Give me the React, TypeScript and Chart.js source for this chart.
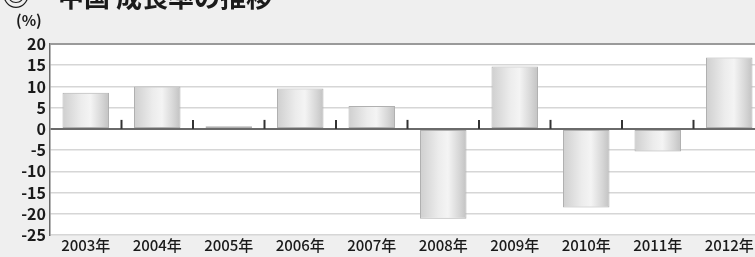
import React, { useEffect, useRef } from "react";
import { Chart, registerables } from "chart.js";

Chart.register(...registerables);

const categories = ["2003年", "2004年", "2005年", "2006年", "2007年", "2008年", "2009年", "2010年", "2011年", "2012年"];
const growthValues = [8.5, 10.0, 0.6, 9.5, 5.4, -21.2, 14.7, -18.5, -5.3, 16.8];
const yTicks = [20, 15, 10, 5, 0, -5, -10, -15, -20, -25];
const titleMark = "◎";
const titleText = "中国 成長率の推移";
const unitText = "(%)";

const FONT = "'Noto Sans CJK JP', 'Noto Sans', sans-serif";
const BAR_RATIO = 0.65;

const decorPlugin = {
  id: "decor",
  beforeDraw(chart: any) {
    const { ctx, chartArea } = chart;
    ctx.save();
    ctx.fillStyle = "#efefef";
    ctx.fillRect(0, 0, chart.width, chart.height);
    ctx.fillStyle = "#ffffff";
    ctx.fillRect(chartArea.left, chartArea.top, chartArea.right - chartArea.left, chartArea.bottom - chartArea.top);
    ctx.restore();
  },
  afterDraw(chart: any) {
    const { ctx } = chart;
    const xs = chart.scales.x;
    const ys = chart.scales.y;
    const zero = ys.getPixelForValue(0);
    ctx.save();
    ctx.strokeStyle = "#333333";
    ctx.lineWidth = 2;
    for (let i = 0; i < categories.length - 1; i++) {
      const bx = (xs.getPixelForValue(i) + xs.getPixelForValue(i + 1)) / 2;
      ctx.beginPath();
      ctx.moveTo(bx, zero - 9);
      ctx.lineTo(bx, zero);
      ctx.stroke();
    }
    ctx.fillStyle = "#1a1a1a";
    ctx.textBaseline = "middle";
    ctx.font = `bold 28px ${FONT}`;
    ctx.fillText(titleMark, 2, -5);
    ctx.font = `bold 26px ${FONT}`;
    ctx.fillText(titleText, 58, -3);
    ctx.font = `bold 15px ${FONT}`;
    ctx.textBaseline = "alphabetic";
    ctx.fillText(unitText, 16, 26);
    ctx.restore();
  },
};

export default function App() {
  const ref = useRef<HTMLCanvasElement>(null);
  useEffect(() => {
    if (!ref.current) return;
    const chart = new Chart(ref.current, {
      type: "bar",
      data: {
        labels: categories,
        datasets: [
          {
            data: growthValues,
            categoryPercentage: 1,
            barPercentage: BAR_RATIO,
            borderWidth: 1,
            borderColor: "#b0b0b0",
            borderSkipped: false,
            backgroundColor: (c: any) => {
              const chartObj = c.chart;
              const xs = chartObj.scales && chartObj.scales.x;
              if (!xs || c.dataIndex === undefined) return "#dddddd";
              const cx = xs.getPixelForValue(c.dataIndex);
              const half = (xs.width / categories.length) * BAR_RATIO / 2;
              if (!isFinite(cx) || !isFinite(half) || half <= 0) return "#dddddd";
              const g = chartObj.ctx.createLinearGradient(cx - half, 0, cx + half, 0);
              g.addColorStop(0, "#cfcfcf");
              g.addColorStop(0.4, "#ececec");
              g.addColorStop(0.6, "#f4f4f4");
              g.addColorStop(0.85, "#d6d6d6");
              g.addColorStop(1, "#c2c2c2");
              return g;
            },
          },
        ],
      },
      options: {
        animation: false,
        responsive: false,
        maintainAspectRatio: false,
        layout: { padding: { top: 44, right: 5, left: 0, bottom: 0 } },
        plugins: { legend: { display: false }, tooltip: { enabled: false }, title: { display: false } },
        scales: {
          x: {
            grid: { display: false, drawTicks: false },
            border: { display: false },
            ticks: { color: "#1a1a1a", font: { family: FONT, size: 15, weight: "500" }, padding: 1, maxRotation: 0, autoSkip: false },
            afterFit: (s: any) => { s.height = 22; },
          },
          y: {
            min: -25,
            max: 20,
            afterBuildTicks: (s: any) => { s.ticks = yTicks.map((v) => ({ value: v })); },
            grid: {
              drawTicks: false,
              color: (c: any) => (c.tick && c.tick.value === 0 ? "#6a6a6a" : c.tick && c.tick.value === 20 ? "#9a9a9a" : "#d6d6d6"),
              lineWidth: (c: any) => (c.tick && (c.tick.value === 0 || c.tick.value === 20) ? 2 : 1.5),
            },
            border: { display: true, color: "#6a6a6a", width: 1.5 },
            ticks: { color: "#1a1a1a", font: { family: FONT, size: 16, weight: "bold" }, padding: 4, autoSkip: false, stepSize: 5 },
            afterFit: (s: any) => { s.width = 50; },
          },
        },
      },
      plugins: [decorPlugin],
    });
    return () => chart.destroy();
  }, []);
  return (
    <div style={{ position: "fixed", left: 0, top: 0, width: 755, height: 257, overflow: "hidden", background: "#efefef" }}>
      <canvas ref={ref} width={770} height={257} style={{ display: "block", width: 770, height: 257 }} />
    </div>
  );
}
